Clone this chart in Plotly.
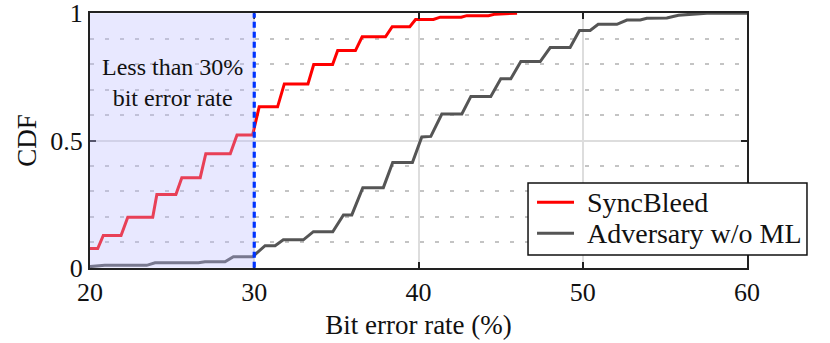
import plotly.graph_objects as go

# SyncBleed CDF (bit error rate %, CDF)
syncbleed_x = [20.0, 20.47, 20.81, 21.89, 22.30, 23.82, 24.07, 25.23, 25.59, 26.71, 27.05,
               28.54, 28.95, 29.90, 30.30, 31.42, 31.83, 33.27, 33.62, 34.77, 35.08, 36.16,
               36.57, 37.99, 38.40, 39.47, 39.82, 40.91, 41.32, 42.60, 42.94, 44.26, 44.67, 46.0]
syncbleed_y = [0.076, 0.076, 0.127, 0.127, 0.199, 0.199, 0.288, 0.288, 0.354, 0.354, 0.448,
               0.448, 0.522, 0.522, 0.632, 0.632, 0.722, 0.722, 0.798, 0.798, 0.853, 0.853,
               0.907, 0.907, 0.947, 0.947, 0.975, 0.975, 0.984, 0.984, 0.990, 0.990, 0.996, 1.0]

# Adversary w/o ML CDF
adversary_x = [20.0, 20.9, 23.45, 23.96, 26.6, 27.0, 28.22, 28.73, 29.90, 30.66, 31.27, 31.77,
               32.99, 33.60, 34.78, 35.43, 35.94, 36.61, 37.86, 38.43, 39.63, 40.20, 40.75,
               41.42, 42.64, 43.19, 44.40, 45.01, 45.62, 46.23, 47.41, 48.02, 49.23, 49.80,
               50.45, 50.94, 52.08, 52.69, 53.5, 53.9, 55.12, 55.83, 57.56, 60.0]
adversary_y = [0.005, 0.010, 0.010, 0.020, 0.020, 0.024, 0.024, 0.044, 0.044, 0.087, 0.087, 0.110,
               0.110, 0.142, 0.142, 0.208, 0.208, 0.315, 0.315, 0.414, 0.414, 0.514, 0.516,
               0.604, 0.604, 0.673, 0.673, 0.742, 0.742, 0.810, 0.810, 0.865, 0.865, 0.932,
               0.932, 0.956, 0.956, 0.973, 0.973, 0.980, 0.981, 0.992, 1.0, 1.0]

series_names = ["SyncBleed", "Adversary w/o ML"]
series_colors = ["#ff0000", "#555555"]
x_ticks = [20, 30, 40, 50, 60]
y_ticks = [0, 0.5, 1]
y_tick_labels = ["0", "0.5", "1"]
threshold = 30
annotation_text = "Less than 30%<br>bit error rate"

FONT = "Liberation Serif"

fig = go.Figure()
fig.add_trace(go.Scatter(x=syncbleed_x, y=syncbleed_y, mode="lines", name=series_names[0],
                         line=dict(color=series_colors[0], width=3), showlegend=False))
fig.add_trace(go.Scatter(x=adversary_x, y=adversary_y, mode="lines", name=series_names[1],
                         line=dict(color=series_colors[1], width=3), showlegend=False))

# shaded region (drawn above the lines, semi-transparent)
fig.add_shape(type="rect", xref="x", yref="y", x0=x_ticks[0], x1=threshold, y0=0, y1=1,
              fillcolor="rgb(188,188,255)", opacity=0.34, line=dict(width=0), layer="above")
# threshold dashed line
fig.add_shape(type="line", xref="x", yref="y", x0=threshold, x1=threshold, y0=0, y1=1,
              line=dict(color="#0033ff", width=3.2, dash="6px,4px"), layer="above")

fig.add_annotation(x=(x_ticks[0] + threshold) / 2, y=0.728, xref="x", yref="y",
                   text=annotation_text, showarrow=False,
                   font=dict(family=FONT, size=24, color="#111111"), align="center")

# legend box (paper coordinates)
fig.add_shape(type="rect", xref="paper", yref="paper", x0=0.6667, x1=1.0913, y0=0.051, y1=0.333,
              fillcolor="white", line=dict(color="#111", width=1.5), layer="above")
legend_rows_y = [0.2576, 0.136]
for name, color, ly in zip(series_names, series_colors, legend_rows_y):
    fig.add_shape(type="line", xref="paper", yref="paper", x0=0.6804, x1=0.7367, y0=ly, y1=ly,
                  line=dict(color=color, width=3), layer="above")
    fig.add_annotation(x=0.7534, y=ly, xref="paper", yref="paper", text=name, showarrow=False,
                       xanchor="left", yanchor="middle",
                       font=dict(family=FONT, size=28, color="#111"))

fig.update_xaxes(range=[20, 60], tickvals=x_ticks, ticks="inside", ticklen=6, tickwidth=1.5,
                 tickcolor="#222", showline=True, linecolor="#222", linewidth=2, mirror="ticks",
                 showgrid=True, gridcolor="#dddddd", gridwidth=1.5, zeroline=False,
                 automargin=False,
                 title=dict(text="Bit error rate (%)", font=dict(family=FONT, size=27, color="#111"),
                            standoff=9),
                 tickfont=dict(family=FONT, size=26, color="#111"))
fig.update_yaxes(range=[-0.0005, 1.0005], tickvals=y_ticks, ticktext=y_tick_labels, ticks="inside",
                 ticklen=6, tickwidth=1.5, tickcolor="#222", showline=True, linecolor="#222",
                 linewidth=2, mirror="ticks", showgrid=True, gridcolor="#dddddd", gridwidth=1.5,
                 zeroline=False, automargin=False, ticklabeloverflow="allow",
                 minor=dict(dtick=0.1, showgrid=True, gridcolor="#c4c4c4", gridwidth=1.5,
                            griddash="4px,11px", ticks=""),
                 title=dict(text="CDF", font=dict(family=FONT, size=27, color="#111"), standoff=6),
                 tickfont=dict(family=FONT, size=26, color="#111"))

fig.update_layout(
    width=830, height=343,
    margin=dict(l=90, r=83, t=13, b=75, autoexpand=False),
    plot_bgcolor="white", paper_bgcolor="white",
    font=dict(family=FONT),
    showlegend=False,
)

fig.write_html("out.html", config={"displayModeBar": False},
               post_script="document.body.style.margin='0px';document.body.style.overflow='hidden';")
